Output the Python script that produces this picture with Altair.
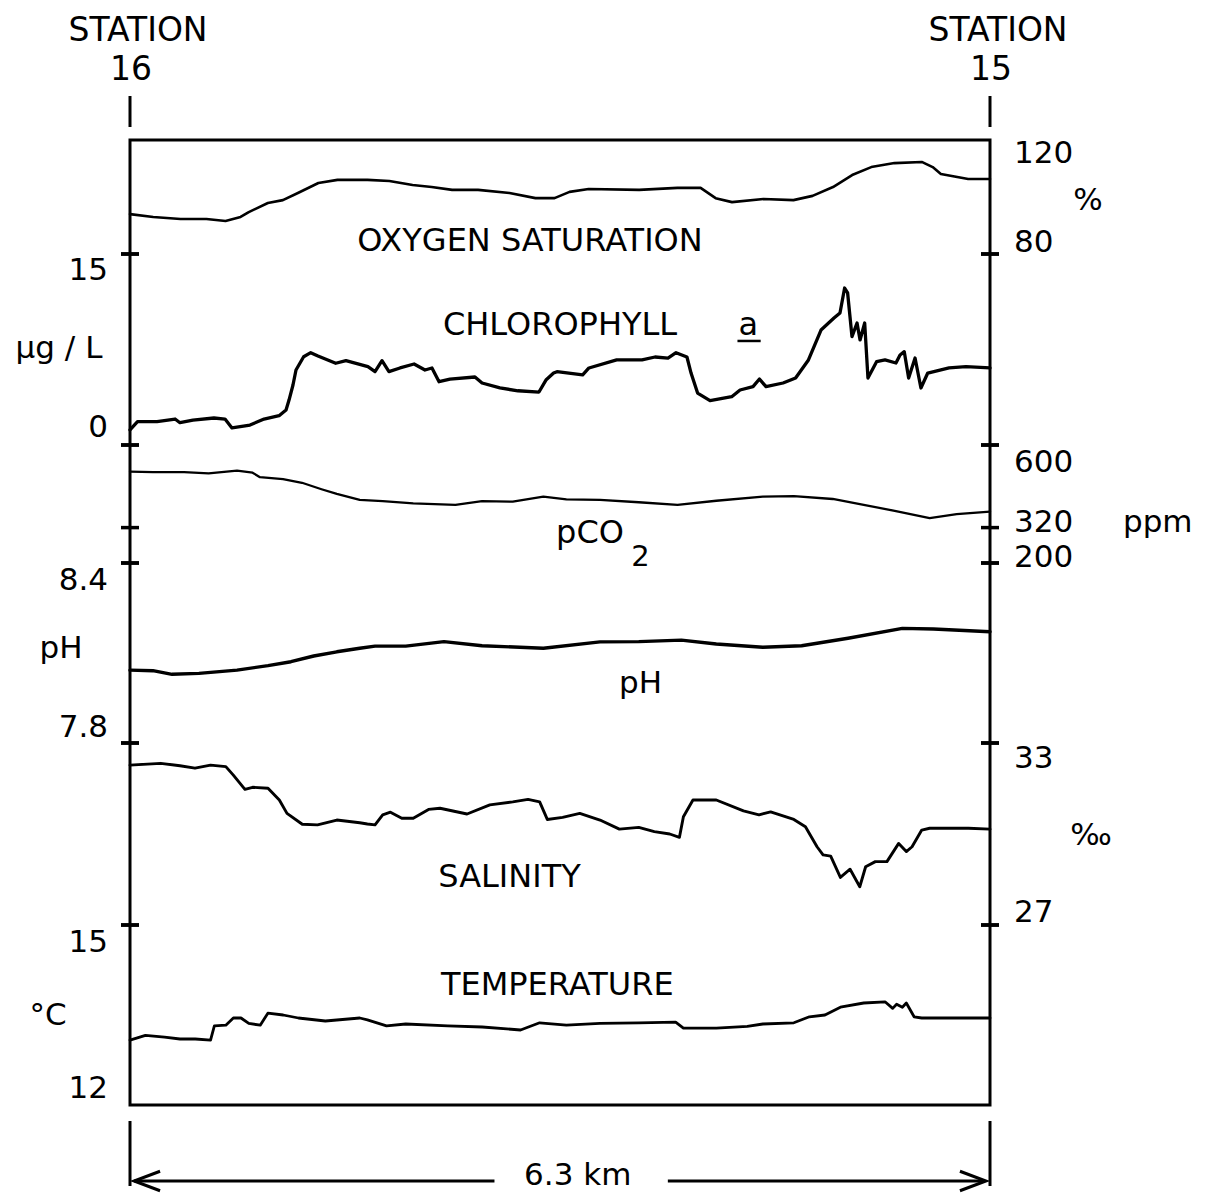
import altair as alt
import pandas as pd

# ---------------- data ----------------
station_km = [0.0, 6.3]
station_names = ["16", "15"]
transect_label = "6.3 km"

o2_km = [0.00, 0.17, 0.37, 0.56, 0.70, 0.81, 0.87, 1.01, 1.12, 1.23, 1.38, 1.52, 1.74, 1.90,
         2.07, 2.21, 2.36, 2.55, 2.78, 2.97, 3.11, 3.22, 3.36, 3.73, 4.01, 4.18, 4.29, 4.41,
         4.64, 4.86, 5.00, 5.15, 5.29, 5.43, 5.60, 5.80, 5.88, 5.94, 6.06, 6.14, 6.30]
o2_pct = [94.0, 93.0, 92.3, 92.3, 91.6, 93.0, 94.7, 97.9, 98.9, 101.4, 104.9, 106.0, 106.0, 105.6,
          104.2, 103.5, 102.5, 102.5, 101.4, 99.6, 99.6, 101.8, 102.8, 102.5, 103.2, 103.2, 99.6, 98.2,
          99.3, 98.9, 100.4, 103.5, 107.7, 110.5, 111.9, 112.3, 110.5, 108.1, 107.0, 106.3, 106.3]

chl_km = [0.00, 0.055, 0.198, 0.330, 0.366, 0.461, 0.615, 0.696, 0.747, 0.879, 0.982, 1.092, 1.143,
          1.165, 1.194, 1.216, 1.272, 1.324, 1.377, 1.507, 1.582, 1.743, 1.795, 1.846, 1.897, 1.978,
          2.081, 2.161, 2.212, 2.264, 2.344, 2.527, 2.579, 2.710, 2.842, 2.996, 3.047, 3.103, 3.128,
          3.316, 3.362, 3.565, 3.751, 3.846, 3.941, 4.000, 4.080, 4.110, 4.158, 4.249, 4.408, 4.469,
          4.564, 4.611, 4.659, 4.784, 4.876, 4.970, 5.062, 5.157, 5.201, 5.235, 5.257, 5.289, 5.326,
          5.348, 5.382, 5.406, 5.469, 5.531, 5.611, 5.641, 5.672, 5.704, 5.751, 5.794, 5.844, 6.000,
          6.124, 6.300]
chl_ugl = [1.18, 1.83, 1.83, 2.04, 1.75, 1.96, 2.12, 2.04, 1.34, 1.57, 2.04, 2.30, 2.75,
           3.53, 4.71, 5.89, 6.93, 7.25, 6.99, 6.42, 6.62, 6.15, 5.76, 6.62, 5.76, 6.05,
           6.36, 5.89, 6.05, 4.97, 5.18, 5.34, 4.87, 4.48, 4.26, 4.16, 5.10, 5.65, 5.76,
           5.50, 6.05, 6.68, 6.68, 6.91, 6.83, 7.25, 6.91, 5.65, 4.08, 3.48, 3.79, 4.32,
           4.58, 5.18, 4.58, 4.87, 5.26, 6.68, 9.03, 9.97, 10.37, 12.33, 11.94, 8.51, 9.58,
           8.25, 9.58, 5.26, 6.54, 6.68, 6.44, 7.07, 7.33, 5.26, 6.83, 4.48, 5.65, 6.05,
           6.15, 6.05]

pco2_km = [0.00, 0.168, 0.396, 0.576, 0.784, 0.898, 0.952, 1.121, 1.260, 1.403, 1.515, 1.683,
           1.851, 2.075, 2.384, 2.579, 2.804, 3.028, 3.197, 3.443, 3.727, 4.011, 4.295, 4.636,
           4.863, 5.148, 5.375, 5.602, 5.858, 6.056, 6.300]
pco2_ppm = [510, 508, 508, 504, 513, 506, 491, 484, 472, 450, 434, 414,
            410, 402, 397, 410, 408, 425, 416, 414, 406, 397, 411, 425,
            427, 417, 397, 377, 352, 366, 374]

ph_km = [0.00, 0.168, 0.308, 0.505, 0.784, 1.011, 1.179, 1.346, 1.515, 1.683, 1.795, 2.020,
         2.300, 2.579, 3.028, 3.443, 3.727, 4.039, 4.295, 4.636, 4.920, 5.260, 5.658, 5.886, 6.300]
ph_val = [8.043, 8.041, 8.029, 8.032, 8.043, 8.058, 8.071, 8.090, 8.104, 8.116, 8.123, 8.123,
          8.138, 8.124, 8.116, 8.137, 8.138, 8.143, 8.130, 8.119, 8.124, 8.149, 8.182, 8.180, 8.171]

sal_km = [0.00, 0.225, 0.366, 0.476, 0.590, 0.702, 0.757, 0.842, 0.898, 1.011, 1.094, 1.150,
          1.262, 1.374, 1.515, 1.683, 1.739, 1.795, 1.851, 1.908, 1.991, 2.075, 2.187, 2.271,
          2.469, 2.636, 2.804, 2.916, 3.001, 3.057, 3.169, 3.295, 3.443, 3.585, 3.727, 3.841,
          3.954, 4.025, 4.054, 4.124, 4.295, 4.494, 4.608, 4.693, 4.863, 4.948, 5.033, 5.077,
          5.133, 5.204, 5.275, 5.346, 5.389, 5.460, 5.545, 5.631, 5.687, 5.729, 5.800, 5.858,
          6.142, 6.300]
sal_ppt = [32.27, 32.33, 32.25, 32.17, 32.27, 32.22, 31.94, 31.47, 31.54, 31.51, 31.12, 30.68,
           30.32, 30.30, 30.46, 30.37, 30.33, 30.30, 30.63, 30.72, 30.52, 30.52, 30.81, 30.85,
           30.66, 30.96, 31.06, 31.14, 31.06, 30.48, 30.55, 30.68, 30.46, 30.16, 30.22, 30.08,
           30.00, 29.89, 30.57, 31.12, 31.12, 30.76, 30.63, 30.73, 30.48, 30.24, 29.58, 29.31,
           29.27, 28.57, 28.84, 28.26, 28.92, 29.09, 29.09, 29.69, 29.42, 29.58, 30.13, 30.19,
           30.19, 30.16]

temp_km = [0.00, 0.113, 0.253, 0.366, 0.478, 0.590, 0.618, 0.702, 0.757, 0.813, 0.870, 0.954,
           1.010, 1.122, 1.234, 1.431, 1.683, 1.739, 1.879, 2.020, 2.328, 2.580, 2.861, 3.001,
           3.197, 3.443, 3.727, 3.997, 4.054, 4.295, 4.522, 4.636, 4.863, 4.977, 5.091, 5.204,
           5.375, 5.531, 5.587, 5.616, 5.658, 5.687, 5.744, 5.800, 6.300]
temp_c = [13.08, 13.16, 13.13, 13.10, 13.10, 13.08, 13.32, 13.33, 13.45, 13.45, 13.36, 13.33,
          13.53, 13.50, 13.45, 13.40, 13.45, 13.42, 13.32, 13.35, 13.32, 13.30, 13.25, 13.37,
          13.33, 13.36, 13.37, 13.38, 13.28, 13.28, 13.31, 13.35, 13.37, 13.47, 13.50, 13.63,
          13.70, 13.72, 13.61, 13.68, 13.63, 13.70, 13.47, 13.45, 13.45]

# tick values and tick labels of each scale
o2_ticks, o2_labels = [80], ["120", "80"]
o2_label_vals = [120, 80]
chl_ticks, chl_labels, chl_label_vals = [15, 0], ["15", "0"], [15, 0]
pco2_ticks, pco2_labels, pco2_label_vals = [600, 320, 200], ["600", "320", "200"], [600, 320, 200]
ph_ticks, ph_labels, ph_label_vals = [8.4, 7.8], ["8.4", "7.8"], [8.4, 7.8]
sal_ticks, sal_labels, sal_label_vals = [33, 27], ["33", "27"], [33, 27]
temp_ticks, temp_labels, temp_label_vals = [15], ["15", "12"], [15, 12]

# ---------------- layout ----------------
FONT = "DejaVu Sans"
W, H = 860, 965
TOP = 140  # page y of the plot frame's top edge

X = alt.X("km:Q", scale=alt.Scale(domain=[0, 6.3], nice=False, zero=False), axis=None)


def yscale(va, ya, vb, yb):
    """Linear scale placing value va at page row ya and vb at page row yb."""
    s = (vb - va) / (yb - ya)
    return alt.Scale(domain=[va + (TOP + H - ya) * s, va + (TOP - ya) * s],
                     nice=False, zero=False)


def text_layer(sc, v, t, size, align, dy=0, km=None, px=None):
    df = pd.DataFrame({"v": [v], "t": [t], "km": [km if km is not None else 0.0]})
    xenc = X if km is not None else alt.value(px)
    return alt.Chart(df).mark_text(font=FONT, fontSize=size, align=align, baseline="alphabetic",
                                   dy=dy, color="black").encode(
        x=xenc, y=alt.Y("v:Q", scale=sc, axis=None), text="t:N")


def panel(km, vals, sc, stroke, ticks, label_vals, labels, side, label_dy, notes):
    Y = alt.Y("v:Q", scale=sc, axis=None)
    layers = [alt.Chart(pd.DataFrame({"km": km, "v": vals})).mark_line(
        color="black", strokeWidth=stroke, strokeJoin="round", strokeCap="round").encode(x=X, y=Y)]
    tdf = pd.DataFrame({"v": ticks})
    for x0 in (0, W):
        layers.append(alt.Chart(tdf).mark_rule(color="black", strokeWidth=3.5).encode(
            x=alt.value(x0 - 9), x2=alt.value(x0 + 9), y=Y))
    for v, t, dy in zip(label_vals, labels, label_dy):
        if side == "left":
            layers.append(text_layer(sc, v, t, 31, "right", dy, px=-22))
        else:
            layers.append(text_layer(sc, v, t, 31, "left", dy, px=W + 24))
    for n in notes:
        layers.append(text_layer(sc, n["v"], n["t"], n.get("size", 31), n.get("align", "center"),
                                 n.get("dy", 0), km=n.get("km"), px=n.get("px")))
    return alt.layer(*layers)


sc_o2 = yscale(120, 140, 80, 254)
sc_chl = yscale(15, 254, 0, 445)
sc_pco2 = yscale(600, 445, 200, 563)
sc_ph = yscale(8.4, 563, 7.8, 743)
sc_sal = yscale(33, 743, 27, 925)
sc_temp = yscale(15, 925, 12, 1105)

p_o2 = panel(o2_km, o2_pct, sc_o2, 2.6, o2_ticks, o2_label_vals, o2_labels, "right", [23, -2],
             [{"t": "OXYGEN SATURATION", "km": 2.93, "v": 81.2, "size": 32},
              {"t": "%", "px": 958, "v": 95.4}])

chl_underline = alt.Chart(pd.DataFrame({"km": [4.45], "km2": [4.62], "v": [8.17]})).mark_rule(
    color="black", strokeWidth=2.5).encode(x=X, x2="km2:Q", y=alt.Y("v:Q", scale=sc_chl, axis=None))
p_chl = alt.layer(
    panel(chl_km, chl_ugl, sc_chl, 3.3, chl_ticks, chl_label_vals, chl_labels, "left", [26, -8],
          [{"t": "CHLOROPHYLL", "km": 3.15, "v": 8.64, "size": 32},
           {"t": "a", "km": 4.53, "v": 8.64, "size": 32},
           {"t": "µg / L", "px": -71, "v": 6.83}]),
    chl_underline)

p_pco2 = panel(pco2_km, pco2_ppm, sc_pco2, 2.3, pco2_ticks, pco2_label_vals, pco2_labels, "right",
               [27, 4, 4],
               [{"t": "pCO", "km": 3.37, "v": 268, "size": 32},
                {"t": "2", "km": 3.74, "v": 190, "size": 29},
                {"t": "ppm", "px": W + 133, "v": 320, "dy": 4, "align": "left"}])

p_ph = panel(ph_km, ph_val, sc_ph, 3.4, ph_ticks, ph_label_vals, ph_labels, "left", [27, -6],
             [{"t": "pH", "km": 3.74, "v": 7.967},
              {"t": "pH", "px": -69, "v": 8.083}])

p_sal = panel(sal_km, sal_ppt, sc_sal, 2.9, sal_ticks, sal_label_vals, sal_labels, "right", [25, -3],
              [{"t": "SALINITY", "km": 2.78, "v": 28.25, "size": 32},
               {"t": "‰", "px": 961, "v": 29.64}])

p_temp = panel(temp_km, temp_c, sc_temp, 2.8, temp_ticks, temp_label_vals, temp_labels, "left",
               [27, -7],
               [{"t": "TEMPERATURE", "km": 3.13, "v": 13.83, "size": 32},
                {"t": "°C", "px": -82, "v": 13.33}])

# ---------------- decorations outside the frame ----------------
st_df = pd.DataFrame({"km": station_km, "name": station_names, "word": ["STATION", "STATION"]})
st_top = alt.Chart(st_df).mark_rule(color="black", strokeWidth=3).encode(
    x=X, y=alt.value(-44), y2=alt.value(-13))
st_bot = alt.Chart(st_df).mark_rule(color="black", strokeWidth=3).encode(
    x=X, y=alt.value(981), y2=alt.value(1046))
st_word = alt.Chart(st_df).mark_text(font=FONT, fontSize=33, align="center", baseline="alphabetic",
                                     dx=8, color="black").encode(x=X, y=alt.value(-99), text="word:N")
st_num = alt.Chart(st_df).mark_text(font=FONT, fontSize=33, align="center", baseline="alphabetic",
                                    dx=1, color="black").encode(x=X, y=alt.value(-60), text="name:N")

arrow_df = pd.DataFrame({"km": [0.03, 3.94], "km2": [2.67, 6.26]})
arrow_lines = alt.Chart(arrow_df).mark_rule(color="black", strokeWidth=3).encode(
    x=X, x2="km2:Q", y=alt.value(1041))
head_l = alt.Chart(pd.DataFrame({"km": [0.125]})).mark_point(
    shape="M1,-0.75L-1,0L1,0.75", size=676, filled=False, color="black", strokeWidth=3,
    opacity=1).encode(x=X, y=alt.value(1041))
head_r = alt.Chart(pd.DataFrame({"km": [6.175]})).mark_point(
    shape="M-1,-0.75L1,0L-1,0.75", size=676, filled=False, color="black", strokeWidth=3,
    opacity=1).encode(x=X, y=alt.value(1041))
dist_text = alt.Chart(pd.DataFrame({"km": [3.28], "t": [transect_label]})).mark_text(
    font=FONT, fontSize=31, align="center", baseline="middle", color="black").encode(
    x=X, y=alt.value(1036), text="t:N")

decor = alt.layer(st_top, st_bot, st_word, st_num, arrow_lines, head_l, head_r, dist_text)

chart = alt.layer(p_o2, p_chl, p_pco2, p_ph, p_sal, p_temp, decor).resolve_scale(
    y="independent"
).properties(
    width=W, height=H,
    autosize=alt.AutoSizeParams(type="none"),
    padding={"left": 130, "top": TOP, "right": 218, "bottom": 90},
    background="white",
).configure_view(stroke="black", strokeWidth=3)

chart.save("out.html", embed_options={"renderer": "svg", "actions": False})
